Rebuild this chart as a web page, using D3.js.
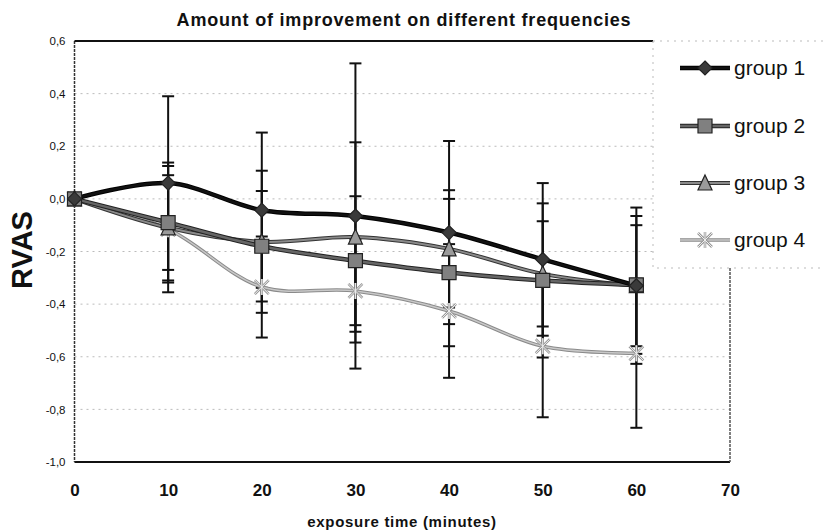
<!DOCTYPE html>
<html><head><meta charset="utf-8">
<script src="https://cdn.jsdelivr.net/npm/d3@7"></script>
<style>body{margin:0;background:#fff;} svg{display:block;font-family:"Liberation Sans",Arial,sans-serif;}</style>
</head><body>
<svg id="c" width="823" height="531"></svg>
<script>
const times = [0, 10, 20, 30, 40, 50, 60];
const groupNames = ["group 1", "group 2", "group 3", "group 4"];
const group1 = [0, 0.06, -0.043, -0.065, -0.128, -0.23, -0.33];
const group2 = [0, -0.09, -0.18, -0.235, -0.28, -0.31, -0.327];
const group3 = [0, -0.11, -0.163, -0.145, -0.19, -0.285, -0.33];
const group4 = [0, -0.115, -0.335, -0.35, -0.426, -0.56, -0.587];
const err1 = [0, 0.33, 0.295, 0.58, 0.348, 0.29, 0.297];
const err2 = [0, 0.228, 0.21, 0.245, 0.28, 0.293, 0.262];
const err3 = [0, 0.2, 0.27, 0.36, 0.223, 0.2, 0.23];
const err4 = [0, 0.24, 0.192, 0.196, 0.254, 0.27, 0.283];
const yTicks = [0.6, 0.4, 0.2, 0.0, -0.2, -0.4, -0.6, -0.8, -1.0];
const xTicks = [0, 10, 20, 30, 40, 50, 60, 70];

const series = [
  {name: groupNames[0], vals: group1, err: err1, outer: "#000", inner: "#111", w: 4.5, marker: "diamond", fill: "#3a3a3a"},
  {name: groupNames[1], vals: group2, err: err2, outer: "#222", inner: "#666", w: 4.5, marker: "square", fill: "#808080"},
  {name: groupNames[2], vals: group3, err: err3, outer: "#333", inner: "#8a8a8a", w: 4, marker: "triangle", fill: "#9a9a9a"},
  {name: groupNames[3], vals: group4, err: err4, outer: "#8a8a8a", inner: "#c8c8c8", w: 3.5, marker: "star", fill: "#d0d0d0"}
];

const svg = d3.select("#c");
const x = d3.scaleLinear().domain([0, 70]).range([74.5, 730]);
const y = d3.scaleLinear().domain([-1, 0.6]).range([462, 41]);
const fmt = d => d.toFixed(1).replace(".", ",");

// gridlines
svg.append("g").selectAll("line").data(yTicks.filter(t => t > -1 && t < 0.6)).join("line")
  .attr("x1", x(0)).attr("x2", x(70)).attr("y1", d => y(d)).attr("y2", d => y(d))
  .attr("stroke", "#bbb").attr("stroke-width", 1).attr("stroke-dasharray", "2,4");

// axes frame
svg.append("line").attr("x1", x(0)).attr("x2", x(70)).attr("y1", y(-1)).attr("y2", y(-1)).attr("stroke", "#111").attr("stroke-width", 2);
svg.append("line").attr("x1", x(0)).attr("x2", x(0)).attr("y1", y(0.6)).attr("y2", y(-1)).attr("stroke", "#333").attr("stroke-width", 1.5).attr("stroke-dasharray", "3,1");
svg.append("line").attr("x1", x(0)).attr("x2", 653).attr("y1", y(0.6)).attr("y2", y(0.6)).attr("stroke", "#111").attr("stroke-width", 2);
svg.append("line").attr("x1", x(70)).attr("x2", x(70)).attr("y1", 268).attr("y2", y(-1)).attr("stroke", "#555").attr("stroke-width", 1.5).attr("stroke-dasharray", "3,1");

// y axis labels
const yAxis = d3.axisLeft(y).tickValues(yTicks).tickFormat(fmt).tickSize(0).tickPadding(9);
const ya = svg.append("g").attr("transform", `translate(${x(0)},0)`).call(yAxis);
ya.select(".domain").remove();
ya.selectAll("text").attr("font-size", 11.5).attr("fill", "#111").attr("font-family", "Liberation Sans, Arial, sans-serif");

// x axis labels
const xAxis = d3.axisBottom(x).tickValues(xTicks).tickFormat(d3.format("d")).tickSize(0).tickPadding(22);
const xa = svg.append("g").attr("transform", `translate(0,${y(-1)})`).call(xAxis);
xa.select(".domain").remove();
xa.selectAll("text").attr("font-size", 17).attr("font-weight", "bold").attr("fill", "#111").attr("font-family", "Liberation Sans, Arial, sans-serif");

// error bars
const eb = svg.append("g");
series.forEach(s => {
  s.vals.forEach((v, i) => {
    const e = s.err[i];
    if (!e) return;
    const cx = x(times[i]);
    eb.append("line").attr("x1", cx).attr("x2", cx).attr("y1", y(v + e)).attr("y2", y(v - e)).attr("stroke", "#111").attr("stroke-width", 2);
    [v + e, v - e].forEach(t => eb.append("line").attr("x1", cx - 6).attr("x2", cx + 6).attr("y1", y(t)).attr("y2", y(t)).attr("stroke", "#111").attr("stroke-width", 2));
  });
});

// lines
const line = d3.line().x((d, i) => x(times[i])).y(d => y(d)).curve(d3.curveCatmullRom.alpha(0.5));
const lg = svg.append("g");
series.slice().reverse().forEach(s => {
  lg.append("path").attr("d", line(s.vals)).attr("fill", "none").attr("stroke", s.outer).attr("stroke-width", s.w);
  lg.append("path").attr("d", line(s.vals)).attr("fill", "none").attr("stroke", s.inner).attr("stroke-width", s.w - 2);
});

function markerPath(type) {
  const s = 7;
  if (type === "diamond") return `M0,${-s}L${s},0L0,${s}L${-s},0Z`;
  if (type === "square") return `M${-s},${-s}H${s}V${s}H${-s}Z`;
  if (type === "triangle") return `M0,${-s - 1}L${s},${s}L${-s},${s}Z`;
  return `M${-s},${-s}L${s},${s}M${-s},${s}L${s},${-s}M0,${-s - 1}L0,${s + 1}`;
}
function drawMarker(g, s, cx, cy) {
  if (s.marker === "star") {
    g.append("path").attr("d", markerPath("star")).attr("transform", `translate(${cx},${cy})`)
      .attr("fill", "none").attr("stroke", "#999").attr("stroke-width", 2.5);
    g.append("path").attr("d", markerPath("star")).attr("transform", `translate(${cx},${cy})`)
      .attr("fill", "none").attr("stroke", "#eee").attr("stroke-width", 1);
  } else {
    g.append("path").attr("d", markerPath(s.marker)).attr("transform", `translate(${cx},${cy})`)
      .attr("fill", s.fill).attr("stroke", "#222").attr("stroke-width", 1.2);
  }
}
const mg = svg.append("g");
series.slice().reverse().forEach(s => {
  s.vals.forEach((v, i) => drawMarker(mg, s, x(times[i]), y(v)));
});

// legend box
svg.append("rect").attr("x", 653).attr("y", 41).attr("width", 180).attr("height", 227)
  .attr("fill", "#fff").attr("stroke", "#bbb").attr("stroke-width", 1).attr("stroke-dasharray", "2,5");
const legY = [68, 126, 183, 240];
series.forEach((s, i) => {
  const ly = legY[i];
  svg.append("line").attr("x1", 680).attr("x2", 730).attr("y1", ly).attr("y2", ly).attr("stroke", s.outer).attr("stroke-width", s.w);
  svg.append("line").attr("x1", 680).attr("x2", 730).attr("y1", ly).attr("y2", ly).attr("stroke", s.inner).attr("stroke-width", s.w - 2);
  drawMarker(svg, s, 705, ly);
  svg.append("text").attr("x", 734).attr("y", ly + 7).attr("font-size", 21).attr("fill", "#111").text(s.name);
});

// titles
svg.append("text").attr("x", 404).attr("y", 26).attr("text-anchor", "middle").attr("font-size", 18).attr("font-weight", "bold").attr("fill", "#111")
  .attr("letter-spacing", 0.8)
  .text("Amount of improvement on different frequencies");
svg.append("text").attr("x", 402).attr("y", 527).attr("text-anchor", "middle").attr("font-size", 15).attr("font-weight", "bold").attr("fill", "#111")
  .attr("letter-spacing", 0.7)
  .text("exposure time (minutes)");
svg.append("text").attr("transform", "translate(32,250) rotate(-90)").attr("text-anchor", "middle").attr("font-size", 29).attr("font-weight", "bold").attr("fill", "#111")
  .text("RVAS");
</script>
</body></html>
